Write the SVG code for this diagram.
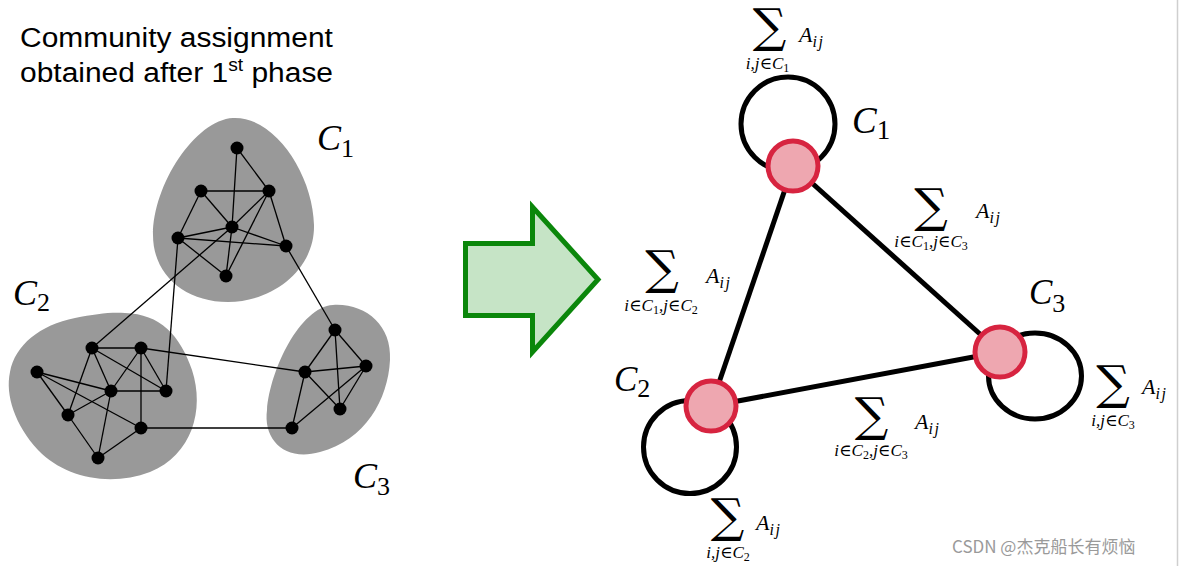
<svg xmlns="http://www.w3.org/2000/svg" width="1179" height="566" viewBox="0 0 1179 566">
<style>
.blob{fill:#999999}
.e{stroke:#000;stroke-width:1.3;fill:none}
.v{fill:#000}
.title{font-family:"Liberation Sans",Arial,sans-serif;font-size:28px;fill:#000}
.math{font-family:"Liberation Serif","DejaVu Serif",serif;font-style:italic;fill:#000}
.up{font-style:normal}
.sig{font-family:"DejaVu Serif","Liberation Serif",serif;font-style:normal;font-size:47px;fill:#000;text-anchor:middle}
.sub{font-size:17px;text-anchor:middle}
.aij{font-size:22px}
.big{stroke:#000;stroke-width:5;fill:none}
.cn{fill:#eea7b0;stroke:#d72440;stroke-width:5}
.wm{font-family:"Noto Sans CJK SC","Noto Sans",sans-serif;font-size:17px;fill:#9a9a9a}
</style>
<rect width="1179" height="566" fill="#fff"/>
<line x1="1177.5" y1="0" x2="1177.5" y2="566" stroke="#cfcfcf" stroke-width="1.5"/>

<g id="title">
<text class="title" transform="translate(20,47) scale(1.07,1)">Community assignment</text>
<text class="title" transform="translate(20,82) scale(1.07,1)">obtained after 1<tspan font-size="18" dy="-11">st</tspan><tspan dy="11"> phase</tspan></text>
</g>

<g id="community-C1">
<path class="blob" d="M233,118 C275,116 313,175 314,225 C315,270 272,302 228,302 C185,302 153,275 153,235 C153,185 195,120 233,118 Z"/>
<text class="math" x="317" y="150" font-size="36">C<tspan class="up" font-size="26" dy="7">1</tspan></text>
</g>
<g id="community-C2">
<path class="blob" d="M125,313 C160,314 180,335 192,370 C205,410 192,455 150,472 C110,487 65,478 38,450 C15,425 5,395 10,372 C15,345 40,325 75,318 C95,314 110,312 125,313 Z"/>
<text class="math" x="13" y="305" font-size="36">C<tspan class="up" font-size="26" dy="6">2</tspan></text>
</g>
<g id="community-C3">
<path class="blob" d="M333,305 C365,303 392,325 390,360 C388,400 365,440 320,452 C285,462 263,440 267,410 C270,370 300,307 333,305 Z"/>
<text class="math" x="353" y="488" font-size="36">C<tspan class="up" font-size="26" dy="7">3</tspan></text>
</g>

<g id="original-edges">
<line class="e" x1="237" y1="148" x2="232" y2="227"/>
<line class="e" x1="237" y1="148" x2="269" y2="191"/>
<line class="e" x1="201" y1="191" x2="269" y2="191"/>
<line class="e" x1="201" y1="191" x2="178" y2="238"/>
<line class="e" x1="201" y1="191" x2="232" y2="227"/>
<line class="e" x1="269" y1="191" x2="232" y2="227"/>
<line class="e" x1="269" y1="191" x2="286" y2="246"/>
<line class="e" x1="269" y1="191" x2="226" y2="276"/>
<line class="e" x1="232" y1="227" x2="178" y2="238"/>
<line class="e" x1="232" y1="227" x2="286" y2="246"/>
<line class="e" x1="232" y1="227" x2="226" y2="276"/>
<line class="e" x1="178" y1="238" x2="286" y2="246"/>
<line class="e" x1="178" y1="238" x2="226" y2="276"/>
<line class="e" x1="92" y1="348" x2="141" y2="348"/>
<line class="e" x1="92" y1="348" x2="111" y2="391"/>
<line class="e" x1="92" y1="348" x2="166" y2="391"/>
<line class="e" x1="92" y1="348" x2="68" y2="415"/>
<line class="e" x1="141" y1="348" x2="111" y2="391"/>
<line class="e" x1="141" y1="348" x2="166" y2="391"/>
<line class="e" x1="141" y1="348" x2="141" y2="428"/>
<line class="e" x1="37" y1="372" x2="111" y2="391"/>
<line class="e" x1="37" y1="372" x2="68" y2="415"/>
<line class="e" x1="37" y1="372" x2="141" y2="428"/>
<line class="e" x1="111" y1="391" x2="166" y2="391"/>
<line class="e" x1="111" y1="391" x2="68" y2="415"/>
<line class="e" x1="111" y1="391" x2="98" y2="458"/>
<line class="e" x1="68" y1="415" x2="98" y2="458"/>
<line class="e" x1="98" y1="458" x2="141" y2="428"/>
<line class="e" x1="335" y1="330" x2="305" y2="372"/>
<line class="e" x1="335" y1="330" x2="366" y2="366"/>
<line class="e" x1="335" y1="330" x2="340" y2="409"/>
<line class="e" x1="305" y1="372" x2="366" y2="366"/>
<line class="e" x1="305" y1="372" x2="340" y2="409"/>
<line class="e" x1="305" y1="372" x2="292" y2="428"/>
<line class="e" x1="366" y1="366" x2="340" y2="409"/>
<line class="e" x1="366" y1="366" x2="292" y2="428"/>
<line class="e" x1="232" y1="227" x2="92" y2="348"/>
<line class="e" x1="178" y1="238" x2="166" y2="391"/>
<line class="e" x1="286" y1="246" x2="335" y2="330"/>
<line class="e" x1="141" y1="348" x2="305" y2="372"/>
<line class="e" x1="141" y1="428" x2="292" y2="428"/>
</g>

<g id="original-nodes">
<circle class="v" cx="237" cy="148" r="6.5"/>
<circle class="v" cx="201" cy="191" r="6.5"/>
<circle class="v" cx="269" cy="191" r="6.5"/>
<circle class="v" cx="232" cy="227" r="6.5"/>
<circle class="v" cx="178" cy="238" r="6.5"/>
<circle class="v" cx="286" cy="246" r="6.5"/>
<circle class="v" cx="226" cy="276" r="6.5"/>
<circle class="v" cx="92" cy="348" r="6.5"/>
<circle class="v" cx="141" cy="348" r="6.5"/>
<circle class="v" cx="37" cy="372" r="6.5"/>
<circle class="v" cx="111" cy="391" r="6.5"/>
<circle class="v" cx="166" cy="391" r="6.5"/>
<circle class="v" cx="68" cy="415" r="6.5"/>
<circle class="v" cx="141" cy="428" r="6.5"/>
<circle class="v" cx="98" cy="458" r="6.5"/>
<circle class="v" cx="335" cy="330" r="6.5"/>
<circle class="v" cx="305" cy="372" r="6.5"/>
<circle class="v" cx="366" cy="366" r="6.5"/>
<circle class="v" cx="340" cy="409" r="6.5"/>
<circle class="v" cx="292" cy="428" r="6.5"/>
</g>

<g id="arrow">
<polygon points="465.5,243.5 532.5,243.5 532.5,207 598,279.5 532.5,352 532.5,315.5 465.5,315.5" fill="#c6e4c6" stroke="#0b870b" stroke-width="5" stroke-linejoin="miter"/>
</g>

<g id="connectors">
<circle class="big" cx="788" cy="124" r="47"/>
<ellipse class="big" cx="1035" cy="376" rx="46.5" ry="43"/>
<circle class="big" cx="690" cy="447" r="46.5"/>
<line class="big" x1="793" y1="166" x2="711" y2="406"/>
<line class="big" x1="793" y1="166" x2="1000" y2="352"/>
<line class="big" x1="711" y1="406" x2="1000" y2="352"/>
</g>

<g id="node-C1">
<circle class="cn" cx="793" cy="166" r="25"/>
<text class="math" x="852" y="133" font-size="37">C<tspan class="up" font-size="27" dy="6">1</tspan></text>
</g>
<g id="node-C2">
<circle class="cn" cx="711" cy="406" r="25"/>
<text class="math" x="614" y="391" font-size="35">C<tspan class="up" font-size="26" dy="6">2</tspan></text>
</g>
<g id="node-C3">
<circle class="cn" cx="1000" cy="352" r="25"/>
<text class="math" x="1029" y="304" font-size="35">C<tspan class="up" font-size="26" dy="8">3</tspan></text>
</g>

<g id="labels">
<g id="lbl-c1">
<text class="sig" x="769.5" y="42">∑</text>
<text class="math sub" x="767.5" y="69">i,j∈C<tspan class="up" font-size="12" dy="3">1</tspan></text>
<text class="math aij" x="799" y="42">A<tspan font-size="16" dy="5" letter-spacing="1.5">ij</tspan></text>
</g>
<g id="lbl-c1c3">
<text class="sig" x="931" y="222">∑</text>
<text class="math sub" x="931" y="247">i∈C<tspan class="up" font-size="12" dy="3">1</tspan><tspan dy="-3">,j∈C</tspan><tspan class="up" font-size="12" dy="3">3</tspan></text>
<text class="math aij" x="976" y="218">A<tspan font-size="16" dy="5" letter-spacing="1.5">ij</tspan></text>
</g>
<g id="lbl-c3">
<text class="sig" x="1113" y="399">∑</text>
<text class="math sub" x="1113" y="426">i,j∈C<tspan class="up" font-size="12" dy="3">3</tspan></text>
<text class="math aij" x="1142" y="394">A<tspan font-size="16" dy="5" letter-spacing="1.5">ij</tspan></text>
</g>
<g id="lbl-c1c2">
<text class="sig" x="662" y="284">∑</text>
<text class="math sub" x="661" y="311">i∈C<tspan class="up" font-size="12" dy="3">1</tspan><tspan dy="-3">,j∈C</tspan><tspan class="up" font-size="12" dy="3">2</tspan></text>
<text class="math aij" x="706" y="283">A<tspan font-size="16" dy="5" letter-spacing="1.5">ij</tspan></text>
</g>
<g id="lbl-c2c3">
<text class="sig" x="871.5" y="431">∑</text>
<text class="math sub" x="871" y="456">i∈C<tspan class="up" font-size="12" dy="3">2</tspan><tspan dy="-3">,j∈C</tspan><tspan class="up" font-size="12" dy="3">3</tspan></text>
<text class="math aij" x="915" y="429">A<tspan font-size="16" dy="5" letter-spacing="1.5">ij</tspan></text>
</g>
<g id="lbl-c2">
<text class="sig" x="727.5" y="532">∑</text>
<text class="math sub" x="728" y="558">i,j∈C<tspan class="up" font-size="12" dy="3">2</tspan></text>
<text class="math aij" x="756" y="530">A<tspan font-size="16" dy="5" letter-spacing="1.5">ij</tspan></text>
</g>
</g>

<text class="wm" x="952" y="553">CSDN @杰克船长有烦恼</text>
</svg>
